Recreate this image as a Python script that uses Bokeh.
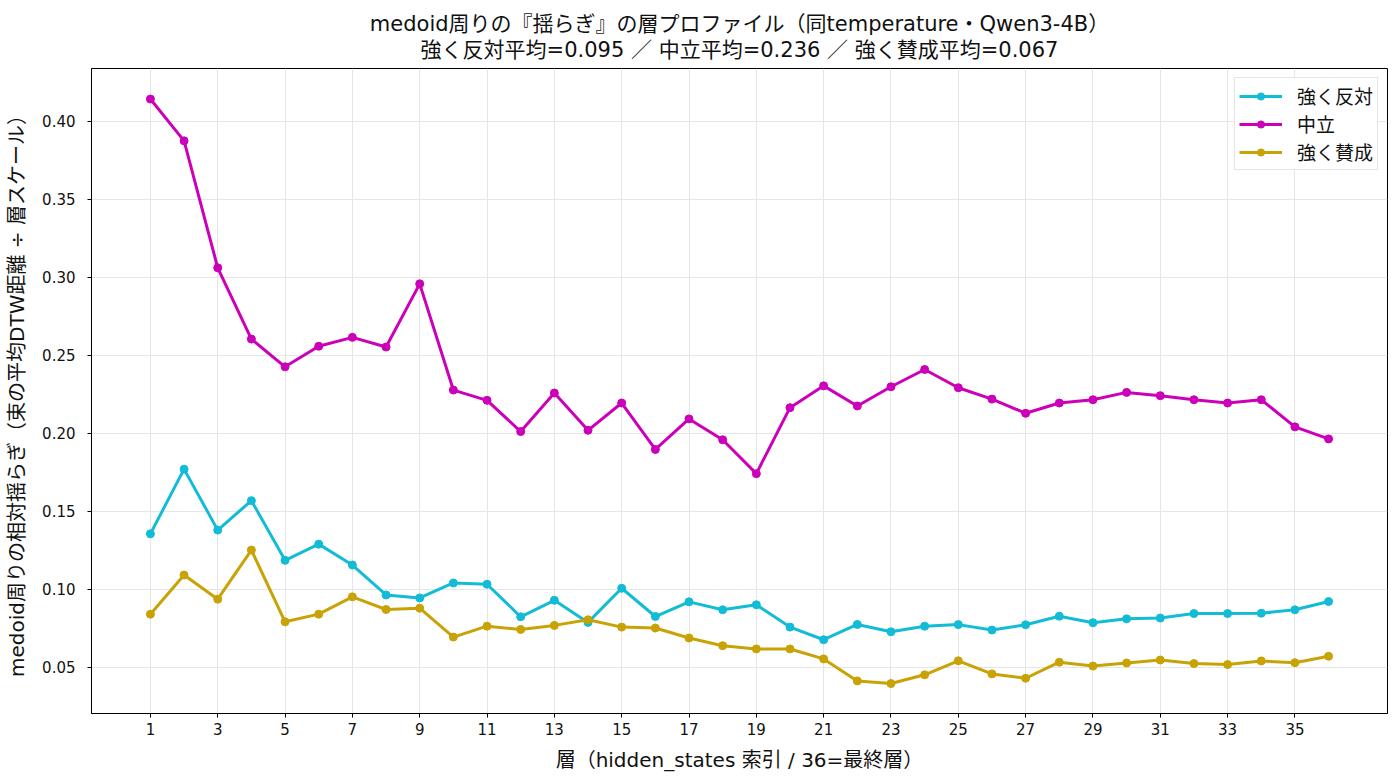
from bokeh.plotting import figure
from bokeh.models import Title, FixedTicker, NumeralTickFormatter, Range1d, Legend, LegendItem
from bokeh.embed import file_html
from bokeh.resources import INLINE

# Latin glyphs from DejaVu Sans, Japanese glyphs fall back to Noto Sans CJK JP
FONT = "'DejaVu Sans', 'Noto Sans CJK JP'"

layers = list(range(1, 37))

strong_oppose = [0.1354, 0.1769, 0.1378, 0.1567, 0.1184, 0.1288, 0.1154, 0.0962, 0.0943, 0.1039,
                 0.1031, 0.0822, 0.0928, 0.0786, 0.1005, 0.0824, 0.0918, 0.0867, 0.0899, 0.0756,
                 0.0675, 0.0773, 0.0726, 0.0762, 0.0772, 0.0737, 0.0771, 0.0826, 0.0784, 0.0809,
                 0.0814, 0.0843, 0.0843, 0.0845, 0.0867, 0.0920]

neutral = [0.4142, 0.3874, 0.3060, 0.2603, 0.2425, 0.2557, 0.2614, 0.2552, 0.2957, 0.2276,
           0.2210, 0.2010, 0.2257, 0.2018, 0.2193, 0.1895, 0.2091, 0.1957, 0.1740, 0.2163,
           0.2303, 0.2174, 0.2297, 0.2408, 0.2291, 0.2218, 0.2127, 0.2193, 0.2214, 0.2261,
           0.2240, 0.2214, 0.2193, 0.2214, 0.2040, 0.1963]

strong_agree = [0.0839, 0.1090, 0.0935, 0.1250, 0.0790, 0.0839, 0.0950, 0.0869, 0.0877, 0.0692,
                0.0762, 0.0741, 0.0767, 0.0803, 0.0756, 0.0750, 0.0686, 0.0637, 0.0616, 0.0616,
                0.0552, 0.0411, 0.0394, 0.0450, 0.0540, 0.0456, 0.0428, 0.0531, 0.0506, 0.0526,
                0.0545, 0.0522, 0.0516, 0.0539, 0.0528, 0.0569]

series_names = ["強く反対", "中立", "強く賛成"]
series_values = [strong_oppose, neutral, strong_agree]
series_colors = ["#12bcd6", "#cc00b8", "#c9a205"]

x_ticks = list(range(1, 37, 2))
y_ticks = [0.05, 0.10, 0.15, 0.20, 0.25, 0.30, 0.35, 0.40]

means = [sum(v) / len(v) for v in series_values]
title_1 = "medoid周りの『揺らぎ』の層プロファイル（同temperature・Qwen3-4B）"
title_2 = " ／ ".join(f"{n}平均={m:.3f}" for n, m in zip(series_names, means))

p = figure(width=1400, height=784, output_backend="svg", toolbar_location=None,
           x_range=Range1d(-0.75, 37.75), y_range=Range1d(0.0202, 0.4338),
           min_border_left=91, min_border_right=13, min_border_top=68, min_border_bottom=71)

p.add_layout(Title(text=title_2, align="center", text_font=FONT, text_font_size="21px",
                   text_font_style="normal", text_color="#111111", standoff=14), "above")
p.add_layout(Title(text=title_1, align="center", text_font=FONT, text_font_size="21px",
                   text_font_style="normal", text_color="#111111", standoff=-15), "above")

items = []
for name, vals, color in zip(series_names, series_values, series_colors):
    r1 = p.line(layers, vals, line_color=color, line_width=3)
    r2 = p.scatter(layers, vals, marker="circle", size=8, fill_color=color, line_color=color)
    items.append(LegendItem(label=name, renderers=[r1, r2]))

legend = Legend(items=items, location="top_right", label_text_font=FONT, label_text_font_size="19px",
                label_text_color="#111111", border_line_color="#cccccc", border_line_width=1,
                background_fill_alpha=0.9, glyph_width=43, glyph_height=18, label_height=18,
                spacing=1, padding=4, margin=9, label_standoff=15)
p.add_layout(legend)

p.xaxis.ticker = FixedTicker(ticks=x_ticks)
p.yaxis.ticker = FixedTicker(ticks=y_ticks)
p.yaxis.formatter = NumeralTickFormatter(format="0.00")
p.xaxis.axis_label = "層（hidden_states 索引 / 36=最終層）"
p.yaxis.axis_label = "medoid周りの相対揺らぎ（束の平均DTW距離 ÷ 層スケール）"

for ax in (p.xaxis, p.yaxis):
    ax.axis_label_text_font = FONT
    ax.axis_label_text_font_size = "20px"
    ax.axis_label_text_font_style = "normal"
    ax.axis_label_text_color = "#111111"
    ax.major_label_text_font = FONT
    ax.major_label_text_font_size = "15px"
    ax.major_label_text_color = "#111111"
    ax.axis_line_color = "black"
    ax.major_tick_line_color = "black"
    ax.major_tick_in = 0
    ax.major_tick_out = 4
    ax.minor_tick_line_color = None
p.xaxis.axis_label_standoff = 10
p.yaxis.axis_label_standoff = 10
p.yaxis.major_label_standoff = 12

p.xgrid.ticker = FixedTicker(ticks=x_ticks)
p.ygrid.ticker = FixedTicker(ticks=y_ticks)
p.grid.grid_line_color = "#e6e6e6"
p.grid.grid_line_width = 1

p.outline_line_color = "black"
p.outline_line_width = 1
p.outline_line_alpha = 1
p.background_fill_color = "white"
p.border_fill_color = "white"

open("out.html", "w").write(file_html(p, INLINE))
